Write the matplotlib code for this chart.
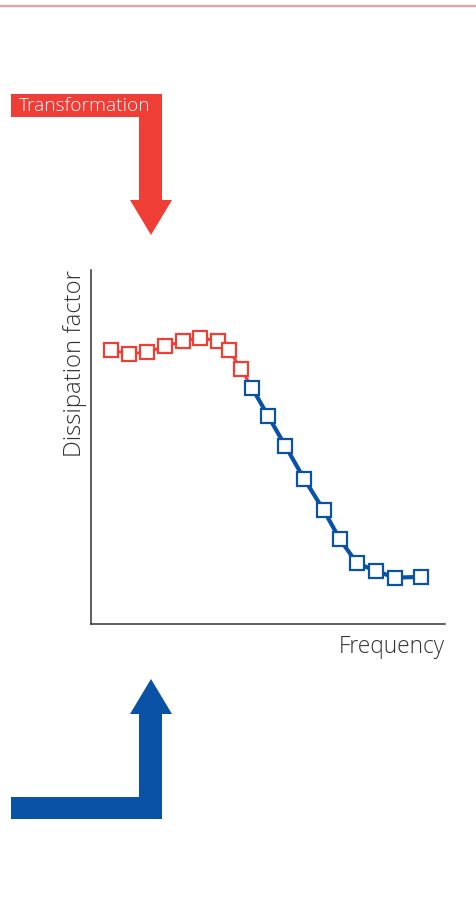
import matplotlib.pyplot as plt
from matplotlib.patches import Polygon

plt.rcParams['font.family'] = ['Open Sans', 'DejaVu Sans']

# --- data (arbitrary units, frequency axis 0..10, dissipation axis 0..10) ---
transform_freq = [0.56, 1.07, 1.58, 2.09, 2.60, 3.09, 3.59, 3.90, 4.24]
transform_diss = [7.74, 7.63, 7.68, 7.84, 7.99, 8.09, 7.99, 7.74, 7.20]
relax_freq = [4.55, 5.00, 5.49, 6.02, 6.57, 7.02, 7.51, 8.05, 8.58, 9.32]
relax_diss = [6.67, 5.88, 5.03, 4.10, 3.22, 2.41, 1.72, 1.50, 1.31, 1.33]

RED = '#ef3e36'
BLUE = '#0a52a5'
W, H = 476, 897

fig = plt.figure(figsize=(W / 100, H / 100), dpi=100)

# overlay in pixel coordinates for the decorations
bg = fig.add_axes([0, 0, 1, 1])
bg.set_xlim(0, W)
bg.set_ylim(H, 0)
bg.set_axis_off()

bg.plot([0, W], [6.5, 6.5], color='#f4a19c', lw=1.6, solid_capstyle='butt')

red_arrow = [(11, 94), (162, 94), (162, 200), (172, 200), (151, 235),
             (130, 200), (139, 200), (139, 117), (11, 117)]
bg.add_patch(Polygon(red_arrow, closed=True, color=RED, lw=0))
bg.text(19, 106, 'Transformation', color='white', fontsize=13.8,
        weight='light', ha='left', va='center')

blue_arrow = [(11, 797), (139, 797), (139, 714), (130, 714), (151, 679),
              (172, 714), (162, 714), (162, 819), (11, 819)]
bg.add_patch(Polygon(blue_arrow, closed=True, color=BLUE, lw=0))

# --- the chart itself ---
ax = fig.add_axes([91 / W, 1 - 624 / H, 354 / W, 354 / H])
ax.set_xlim(0, 10)
ax.set_ylim(0, 10)
for side in ['top', 'right']:
    ax.spines[side].set_visible(False)
for side in ['left', 'bottom']:
    ax.spines[side].set_color('#333333')
    ax.spines[side].set_linewidth(1.1)
ax.set_xticks([])
ax.set_yticks([])

ax.plot(relax_freq, relax_diss, color=BLUE, lw=3, marker='s', ms=10.5,
        mfc='white', mec=BLUE, mew=1.6, zorder=3)
ax.plot(transform_freq + relax_freq[:1], transform_diss + relax_diss[:1],
        color=RED, lw=2.2, zorder=2)
ax.plot(transform_freq, transform_diss, color=RED, lw=0, marker='s', ms=10.5,
        mfc='white', mec=RED, mew=1.6, zorder=4)

ax.set_xlabel('Frequency', fontsize=16.3, color='#333333', weight='light',
              loc='right', labelpad=8)
ax.set_ylabel('Dissipation factor', fontsize=17.2, color='#333333',
              weight='light', loc='top', labelpad=3)

fig.savefig('out.png', dpi=100)
